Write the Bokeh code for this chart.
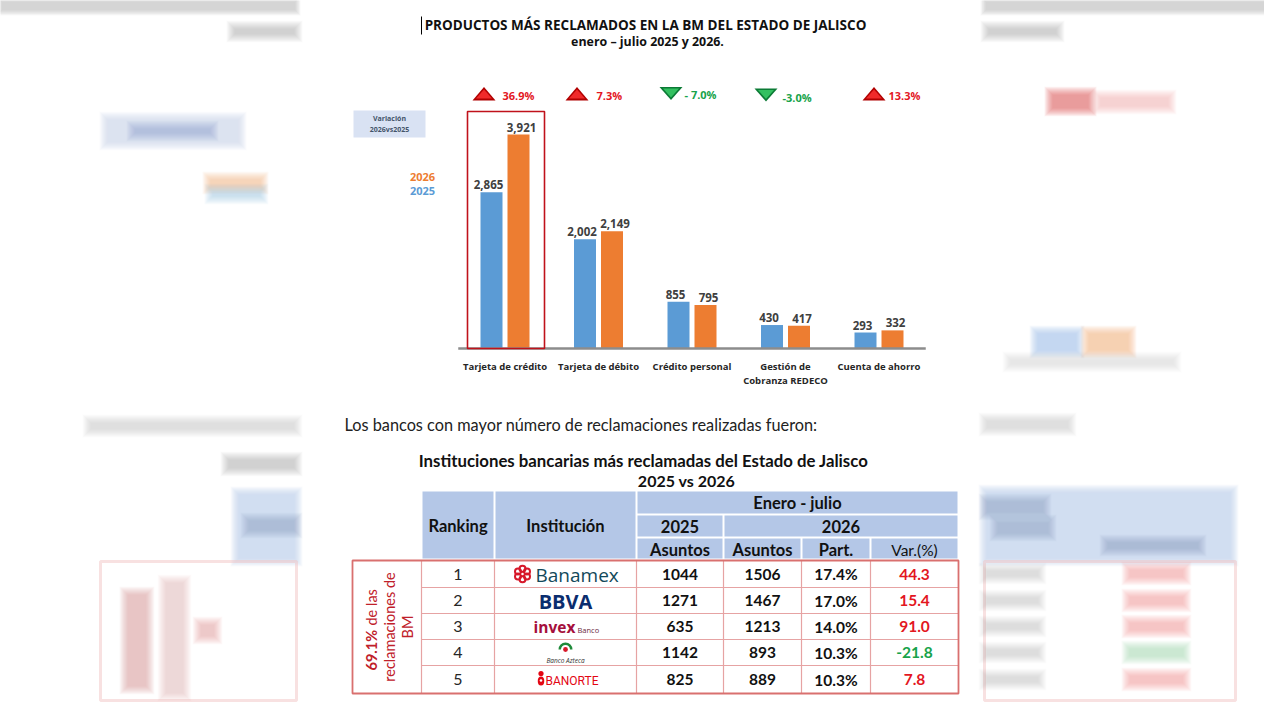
import math
import numpy as np
from bokeh.plotting import figure
from bokeh.models import Range1d
from bokeh.core.properties import value
from bokeh.embed import file_html
from bokeh.resources import INLINE

# ---------------- data ----------------
products = ["Tarjeta de crédito", "Tarjeta de débito", "Crédito personal",
            "Gestión de\nCobranza REDECO", "Cuenta de ahorro"]
claims_2025 = [2865, 2002, 855, 430, 293]
claims_2026 = [3921, 2149, 795, 417, 332]
variation_labels = ["36.9%", "7.3%", "- 7.0%", "-3.0%", "13.3%"]
variation_pct = [36.9, 7.3, -7.0, -3.0, 13.3]
legend_years = ["2026", "2025"]

ranking = [1, 2, 3, 4, 5]
banks = ["Banamex", "BBVA", "invex", "Banco Azteca", "BANORTE"]
asuntos_2025 = [1044, 1271, 635, 1142, 825]
asuntos_2026 = [1506, 1467, 1213, 893, 889]
part_2026 = [17.4, 17.0, 14.0, 10.3, 10.3]
var_2026_vs_2025 = [44.3, 15.4, 91.0, -21.8, 7.8]
share_note = ["69.1%", "de las", "reclamaciones de", "BM"]

title_lines = ["PRODUCTOS MÁS RECLAMADOS EN LA BM DEL ESTADO DE JALISCO",
               "enero – julio 2025 y 2026."]
intro_text = "Los bancos con mayor número de reclamaciones realizadas fueron:"
table_title = ["Instituciones bancarias más reclamadas del Estado de Jalisco",
               "2025 vs 2026"]

# ---------------- styles ----------------
BLUE = "#5b9bd5"
ORANGE = "#ed7d31"
HEAD = "#b4c7e7"
RED_T = "#e3171f"
GREEN_T = "#17a34a"
OS = value("Open Sans")
LT = value("Lato")

W, H = 1264, 704
p = figure(width=W, height=H, x_range=Range1d(0, W), y_range=Range1d(H, 0),
           output_backend="svg", toolbar_location=None, min_border=0,
           x_axis_location=None, y_axis_location=None, tools="")
p.grid.visible = False
p.outline_line_color = None
p.background_fill_color = "white"
p.border_fill_color = "white"

# bar chart scales (extra ranges mapped onto the chart area)
BASE_Y, TOP_Y = 348.0, 134.0
k = (BASE_Y - TOP_Y) / max(claims_2026)
p.extra_y_ranges = {"val": Range1d(start=(BASE_Y - H) / k, end=BASE_Y / k)}
X0, DX = 504.5, 93.5
p.extra_x_ranges = {"cat": Range1d(start=(0 - X0) / DX, end=(W - X0) / DX)}


def txt(x, y, s, size, color="#222222", font=OS, style="normal", align="center",
        baseline="middle", angle=0.0, **kw):
    xs = x if isinstance(x, (list, np.ndarray)) else [x]
    ys = y if isinstance(y, (list, np.ndarray)) else [y]
    ss = s if isinstance(s, list) else [s]
    p.text(x=xs, y=ys, text=ss, text_font_size=f"{size}px", text_color=color,
           text_font=font, text_font_style=style, text_align=align,
           text_baseline=baseline, angle=angle, **kw)


def soft(x0, x1, y0, y1, color, alpha, spread=9, steps=9):
    for i in range(steps):
        e = spread * (steps - i) / steps - spread * 0.35
        p.quad(left=x0 - e, right=x1 + e, top=y0 - e, bottom=y1 + e,
               fill_color=color, fill_alpha=alpha / steps, line_color=None)


# ---------------- blurred background (outside the page) ----------------
soft(0, 296, 0, 11, "#b8b8b8", 0.7, spread=6)
soft(984, 1280, 0, 11, "#b8b8b8", 0.7, spread=6)
soft(232, 296, 26, 36, "#909090", 0.5)
soft(986, 1058, 26, 36, "#909090", 0.5)
soft(105, 240, 117, 144, "#c8d5ee", 0.8)
soft(132, 212, 126, 135, "#8799c0", 0.5)
soft(208, 262, 177, 188, "#f4b183", 0.7)
soft(210, 262, 189, 198, "#9dc3e6", 0.6)
soft(88, 296, 420, 431, "#b5b5b5", 0.5)
soft(226, 296, 457, 470, "#8c8c8c", 0.5)
soft(236, 296, 492, 560, HEAD, 0.85)
soft(246, 296, 518, 532, "#7f8fae", 0.5)
p.quad(left=100, right=296, top=561, bottom=700, fill_color=None,
       line_color="#f2c4c4", line_width=3, line_alpha=0.5)
soft(125, 148, 592, 688, "#d98080", 0.6)
soft(163, 185, 580, 695, "#e3a6a6", 0.5)
soft(198, 216, 622, 638, "#d98080", 0.5)
soft(1050, 1090, 92, 110, "#e05a5a", 0.8)
soft(1098, 1170, 95, 108, "#f0a0a0", 0.6)
soft(1035, 1078, 331, 352, "#9dc3e6", 0.85)
soft(1086, 1130, 331, 352, "#f4b183", 0.85)
soft(1008, 1175, 357, 366, "#d0d0d0", 0.5)
soft(984, 1070, 418, 430, "#b5b5b5", 0.5)
soft(984, 1232, 490, 560, HEAD, 0.85)
soft(984, 1045, 499, 514, "#7f8fae", 0.5)
soft(995, 1050, 520, 535, "#7f8fae", 0.5)
soft(1105, 1200, 540, 550, "#7f8fae", 0.45)
p.quad(left=984, right=1235, top=561, bottom=700, fill_color=None,
       line_color="#f2c4c4", line_width=3, line_alpha=0.5)
for yy, col in zip([573, 600, 626, 652, 679],
                   ["#f08080", "#f08080", "#f08080", "#8fd4a4", "#f08080"]):
    soft(1127, 1185, yy - 6, yy + 6, col, 0.6)
    soft(984, 1040, yy - 5, yy + 5, "#9a9a9a", 0.35)

# ---------------- chart title ----------------
p.segment(x0=[421], x1=[421], y0=[16], y1=[34], line_color="#000000", line_width=1)
txt(645, 24, title_lines[0], 13.5, "#111111", OS, "bold")
txt(647, 41, title_lines[1], 12.4, "#111111", OS, "bold")

# ---------------- variation box & legend ----------------
p.quad(left=353, right=425, top=110, bottom=137, fill_color="#d9e2f3", line_color=None)
txt(389, 117.5, "Variación", 7, "#44546a", OS, "bold")
txt(389, 129, "2026vs2025", 7, "#44546a", OS, "bold")
txt(422, 176, legend_years[0], 11, ORANGE, OS, "bold")
txt(422, 190, legend_years[1], 11, BLUE, OS, "bold")

# ---------------- bars ----------------
n = len(products)
idx = np.arange(n, dtype=float)
OFF, BW = 13.5 / DX, 22.0 / DX
p.vbar(x=idx - OFF, top=claims_2025, bottom=0, width=BW, fill_color=BLUE,
       line_color=None, x_range_name="cat", y_range_name="val")
p.vbar(x=idx + OFF, top=claims_2026, bottom=0, width=BW, fill_color=ORANGE,
       line_color=None, x_range_name="cat", y_range_name="val")
p.segment(x0=[-0.5], x1=[n - 0.5], y0=[0], y1=[0], line_color="#8c8c8c",
          line_width=2.5, x_range_name="cat", y_range_name="val")
NUDGE = 3.0 / DX
for vals, sgn in ((claims_2025, -1), (claims_2026, 1)):
    p.text(x=idx + sgn * (OFF + NUDGE), y=np.array(vals) + 7.5 / k,
           text=[f"{v:,}" for v in vals],
           text_font=OS, text_font_style="bold", text_font_size="11.5px",
           text_color="#404040", text_align="center", text_baseline="alphabetic",
           x_range_name="cat", y_range_name="val")
for i, name in enumerate(products):
    for j, line in enumerate(name.split("\n")):
        p.text(x=[idx[i]], y=[366 + 14 * j], text=[line], text_font=OS,
               text_font_style="bold", text_font_size="9.5px", text_color="#262626",
               text_align="center", text_baseline="alphabetic", x_range_name="cat")

# highlight box around first category
p.quad(left=467, right=544, top=111, bottom=348, fill_color=None,
       line_color="#c0121b", line_width=1.6)

# variation markers
TRI_X = [483.5, 576.5, 670.5, 765.5, 873.5]
LAB_X = [502, 596, 684, 782, 888]
for cx, lx, v, lab in zip(TRI_X, LAB_X, variation_pct, variation_labels):
    if v >= 0:
        p.patch([cx - 11.5, cx + 11.5, cx], [100, 100, 86.5], fill_color="#b00000",
                line_color=None)
        p.patch([cx - 8, cx + 8, cx], [98, 98, 89], fill_color="#f02a2a", line_color=None)
        txt(lx, 95, lab, 11, RED_T, OS, "bold", align="left")
    else:
        yt = 86.5 if lab.startswith("- ") else 88
        p.patch([cx - 11.5, cx + 11.5, cx], [yt, yt, yt + 13], fill_color="#0b7a35",
                line_color=None)
        p.patch([cx - 8, cx + 8, cx], [yt + 1.5, yt + 1.5, yt + 10.5],
                fill_color="#33c060", line_color=None)
        txt(lx, yt + 7.5 + (1.5 if not lab.startswith("- ") else 0), lab, 11, GREEN_T,
            OS, "bold", align="left")

# ---------------- intro text ----------------
txt(344, 424, intro_text, 16.3, "#222222", LT, "normal", align="left", baseline="alphabetic")

# ---------------- table ----------------
txt(643, 460, table_title[0], 16.8, "#111111", LT, "bold")
txt(686, 480, table_title[1], 16, "#111111", LT, "bold")

CX = [352, 421, 494, 636, 723, 801, 870, 958]
HY = [490, 514, 537, 559]
RY = [560, 587, 613, 639, 665, 693]
hc = [(CX[1], CX[2], HY[0], HY[3]), (CX[2], CX[3], HY[0], HY[3]),
      (CX[3], CX[7], HY[0], HY[1]),
      (CX[3], CX[4], HY[1], HY[2]), (CX[4], CX[7], HY[1], HY[2]),
      (CX[3], CX[4], HY[2], HY[3]), (CX[4], CX[5], HY[2], HY[3]),
      (CX[5], CX[6], HY[2], HY[3]), (CX[6], CX[7], HY[2], HY[3])]
p.quad(left=[c[0] + 1 for c in hc], right=[c[1] - 1 for c in hc],
       top=[c[2] + 1 for c in hc], bottom=[c[3] - 1 for c in hc],
       fill_color=HEAD, line_color=None)
HF = 16.5
txt((CX[1] + CX[2]) / 2, 525, "Ranking", HF, "#111111", LT, "bold")
txt((CX[2] + CX[3]) / 2, 525, "Institución", HF, "#111111", LT, "bold")
txt((CX[3] + CX[7]) / 2, 502, "Enero - julio", HF, "#111111", LT, "bold")
txt((CX[3] + CX[4]) / 2, 526, "2025", HF, "#111111", LT, "bold")
txt((CX[4] + CX[7]) / 2, 526, "2026", HF, "#111111", LT, "bold")
for a, b, s, st in [(3, 4, "Asuntos", "bold"), (4, 5, "Asuntos", "bold"),
                    (5, 6, "Part.", "bold"), (6, 7, "Var.(%)", "normal")]:
    txt((CX[a] + CX[b]) / 2, 549, s, HF if st == "bold" else 15.5, "#111111", LT, st)

# body grid
GRID = "#e6a3a3"
p.segment(x0=[CX[1]] * 4, x1=[CX[7]] * 4, y0=RY[1:5], y1=RY[1:5],
          line_color=GRID, line_width=1.2)
p.segment(x0=CX[1:7], x1=CX[1:7], y0=[RY[0]] * 6, y1=[RY[5]] * 6,
          line_color=GRID, line_width=1.2)
p.quad(left=CX[0], right=CX[7], top=RY[0], bottom=RY[5], fill_color=None,
       line_color="#d9706f", line_width=1.8)

BF = 15.5
rc = [(RY[i] + RY[i + 1]) / 2 for i in range(5)]
txt([(CX[1] + CX[2]) / 2] * 5, rc, [str(r) for r in ranking], 16, "#262626", LT)
txt([(CX[3] + CX[4]) / 2] * 5, rc, [str(v) for v in asuntos_2025], BF, "#111111", LT, "bold")
txt([(CX[4] + CX[5]) / 2] * 5, rc, [str(v) for v in asuntos_2026], BF, "#111111", LT, "bold")
txt([(CX[5] + CX[6]) / 2] * 5, rc, [f"{v:.1f}%" for v in part_2026], BF, "#111111", LT, "bold")
for yy, v in zip(rc, var_2026_vs_2025):
    txt((CX[6] + CX[7]) / 2, yy, f"{v:.1f}", BF, RED_T if v >= 0 else GREEN_T, LT, "bold")

# rotated share note
ymid = (RY[0] + RY[5]) / 2
txt(371, 670, share_note[0], 14.5, "#c0202a", LT, "bold", align="left", angle=math.pi / 2)
txt(371, 625, share_note[1], 14.5, "#c0202a", LT, "normal", align="left", angle=math.pi / 2)
txt(389, ymid, share_note[2], 14.5, "#c0202a", LT, "normal", angle=math.pi / 2)
txt(407, ymid, share_note[3], 14.5, "#c0202a", LT, "normal", angle=math.pi / 2)

# bank "logos"
bx = (CX[2] + CX[3]) / 2
# Banamex
fx, fy = 522, rc[0]
ang = np.linspace(0, 2 * np.pi, 7)[:-1] + np.pi / 2
p.circle(x=fx + 5.2 * np.cos(ang), y=fy + 5.2 * np.sin(ang), radius=3.0,
         fill_color=None, line_color="#d7182a", line_width=2)
p.circle(x=[fx], y=[fy], radius=2.0, fill_color="white", line_color="#d7182a",
         line_width=1.5)
txt(535, rc[0] + 0.5, banks[0], 19, "#12495a", OS, "normal", align="left")
# BBVA
txt(bx, rc[1] + 1, banks[1], 20, "#0a2d6e", OS, "bold")
# invex
txt(533, rc[2], banks[2], 15.5, "#a50f3c", OS, "bold", align="left")
txt(577, rc[2] + 3.5, "Banco", 7.5, "#6b2a40", OS, "normal", align="left")
# Banco Azteca
p.annular_wedge(x=[565], y=[rc[3] - 3], inner_radius=4.5, outer_radius=7,
                start_angle=0, end_angle=math.pi, fill_color="#1f8a3a", line_color=None)
p.circle(x=[565], y=[rc[3] - 3], radius=2.4, fill_color="#d7182a", line_color=None)
txt(565, rc[3] + 7.5, banks[3], 6.5, "#333333", OS, "italic")
# Banorte
p.circle(x=[540.5], y=[rc[4] - 6], radius=2.6, fill_color="#e30613", line_color=None)
p.ellipse(x=[540.5], y=[rc[4] + 1.5], width=6.5, height=9, fill_color="#e30613",
          line_color=None)
p.circle(x=[540.5], y=[rc[4] + 1], radius=1.3, fill_color="white", line_color=None)
txt(545, rc[4] + 1, banks[4], 12, "#e30613", value("Roboto"), "normal", align="left")

open("out.html", "w").write(file_html(p, INLINE))
